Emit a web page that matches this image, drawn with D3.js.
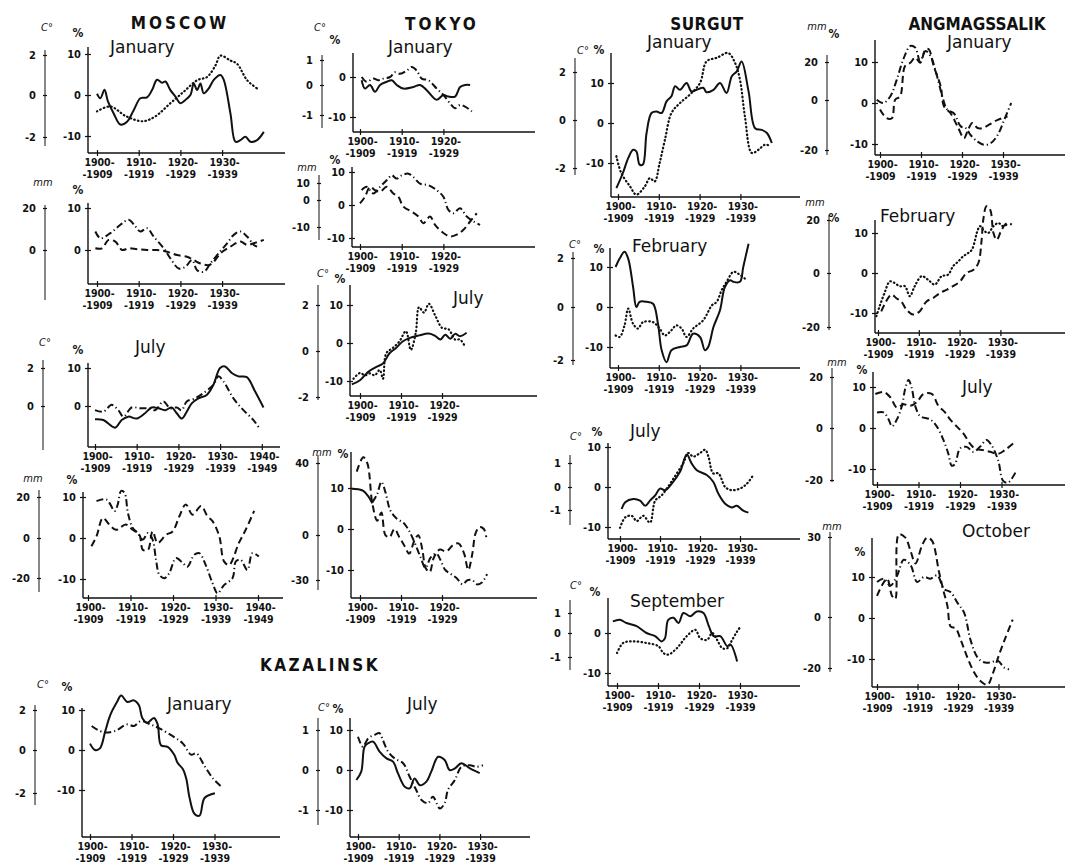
<!DOCTYPE html>
<html>
<head>
<meta charset="utf-8">
<script src="https://cdn.jsdelivr.net/npm/d3@7"></script>
<style>
body { margin: 0; background: #fff; }
svg { display: block; }
</style>
</head>
<body>
<div class="container"></div>
<script>

// ---- tick labels ----
var decades30 = [1900, 1910, 1920, 1930];
var decades40 = [1900, 1910, 1920, 1930, 1940];
var decades20 = [1900, 1910, 1920];
var pct3 = [10, 0, -10];
var pctTop = [10, 0];
var pctLow = [0, -10];
var deg2 = [2, 0, -2];
var deg2top = [2, 0];
var deg1 = [1, 0, -1];
var mm20 = [20, 0];
var mm20b = [20, 0, -20];
var mm10 = [10, 0, -10];
var mm40 = [40, 0, -30];
var mm30 = [30, 0, -20];

// ---- series, [year, value in %] ----
var mosJanSolid = [[1900,0.3],[1900.8,-0.8],[1901.8,1.3],[1902.6,-1.5],[1904,-4.5],[1905.6,-7.2],[1907.2,-6.5],[1908.8,-3.7],[1910.4,-0.8],[1912,-0.6],[1913.2,1.2],[1914.4,3.7],[1915.6,3],[1916.4,3.3],[1917.6,1.2],[1918.8,-0.4],[1920,-2],[1921.2,-1.2],[1922.4,0],[1923.2,2.8],[1924,1.2],[1924.8,2.8],[1925.6,0.4],[1926.8,1.6],[1928,3.7],[1929.6,4.9],[1930.4,3.7],[1932,-4.5],[1933.2,-11.4],[1934.4,-11],[1935.6,-10.2],[1936.8,-11.4],[1938.4,-11],[1940,-9]];
var mosJanDotted = [[1900,-4],[1903.2,-2.8],[1907,-5.2],[1911,-6.4],[1914,-5.2],[1917.6,-2],[1920.8,0.8],[1924,3.6],[1926.4,4.4],[1928.4,7.2],[1929.6,9.6],[1932,8.4],[1933.6,7.6],[1936,3.6],[1938.4,1.6]];
var mosJanRainDashDot = [[1899.6,4.4],[1900.8,2.8],[1903.2,4],[1905.6,6],[1907.6,7.2],[1909.2,5.6],[1910.4,4.4],[1912,5.2],[1913.6,3.2],[1916,0.4],[1917.6,-2],[1919.6,-4.4],[1921.2,-4],[1922.8,-2.4],[1924,-4.8],[1925.6,-5.2],[1927.2,-3.2],[1928.8,-1.2],[1931.2,1.6],[1932.8,3.6],[1934.4,4.4],[1936,3.2],[1937.6,1.2],[1938.4,0.8]];
var mosJanRainDashed = [[1899.6,0.4],[1901.2,0.4],[1902.8,2.4],[1904.4,2],[1906,0],[1907.6,0.4],[1909.6,0.2],[1912,0],[1914.4,0],[1916.8,-0.4],[1919.2,-1.2],[1921.6,-1.6],[1923.2,-2.4],[1924.8,-3.2],[1926.8,-3.6],[1928,-2.8],[1929.6,-0.8],[1932,0.8],[1934.4,2],[1936,1.2],[1937.6,1.6],[1940,2.4]];
var mosJulSolid = [[1900,-3.5],[1902,-3.7],[1904.8,-5.7],[1906.4,-3.7],[1908,-2.8],[1910,-3.3],[1912,-1.9],[1913.6,-0.4],[1915.2,-0.6],[1916.8,-1.1],[1918.4,-0.4],[1919.6,-1.9],[1920.8,-3.3],[1922,-1.5],[1923.2,0.7],[1924.8,2],[1926.8,2.9],[1928.4,5.6],[1930,10],[1931.2,10.4],[1932.8,8.7],[1934.4,7.8],[1936.4,7.6],[1938.4,3.8],[1940.4,-0.4]];
var mosJulDashDot = [[1900,-1.1],[1902,-1.5],[1904,0.3],[1905.6,-1.1],[1906.8,-2.8],[1908.8,-0.4],[1910.8,-0.6],[1912.8,-0.6],[1914.4,-1.1],[1916.4,1.2],[1918,-0.6],[1919.6,-0.4],[1920.8,-1.1],[1922,1.2],[1924,2],[1926,3.4],[1928.4,5.6],[1929.6,7.8],[1930.8,6.5],[1933.2,2],[1935.6,-1.1],[1938,-3.7],[1939.6,-6.2]];
var mosJulRainDashDot = [[1902,9],[1904.3,9.4],[1906.3,6.6],[1907,8.2],[1907.8,11.5],[1908.6,11],[1909.4,6.1],[1910.5,2.5],[1911.7,1.2],[1912.9,-0.4],[1914.1,1.2],[1915.2,-0.4],[1916,-5.3],[1916.8,-9],[1918,-9.8],[1919.1,-8.6],[1920.7,-4.9],[1922.3,-6.1],[1923.4,-7],[1925,-4.1],[1926.2,-3.7],[1927.7,-6.6],[1929.3,-11],[1930.5,-13.5],[1932,-11.5],[1934,-9.8],[1934.8,-5.7],[1935.9,-5.3],[1937.5,-7.8],[1938.7,-3.7],[1940.2,-4.5]];
var mosJulRainDashed = [[1900.8,-2],[1902,0.4],[1903.5,4.9],[1905,3.3],[1906.6,2],[1908.9,3.3],[1910.5,2],[1912.1,0.8],[1912.9,-2.9],[1914.1,-2.9],[1915.2,1.6],[1916.4,-1.2],[1918.4,0.8],[1919.9,1.6],[1921.5,5.3],[1923,8.2],[1924.6,5.7],[1926.6,7.8],[1928.1,5.3],[1929.3,4.1],[1930.9,0.4],[1932,-5.7],[1933.2,-6.6],[1935.5,-1.2],[1937.1,2],[1939.1,6.6]];
var kazJanSolid = [[1900,1.6],[1901.2,0],[1902.4,0.4],[1903.7,4.8],[1904.9,8.8],[1906.5,12],[1907.5,13.6],[1909,12],[1910.6,12.4],[1911.8,11.2],[1912.6,8],[1913.8,6.8],[1915.4,8],[1916.3,6.4],[1917.1,1.2],[1918.7,0.8],[1920.3,-1.2],[1921.1,-3.2],[1922.4,-4.8],[1923.2,-7.2],[1924,-12],[1925.2,-16],[1926.4,-16.4],[1927.6,-12],[1930.1,-10.8]];
var kazJanDashDot = [[1900.4,6],[1903.3,4.4],[1906.1,4.8],[1908.9,6.4],[1910.6,6],[1912.2,7.2],[1914.6,6.4],[1917.1,5.2],[1920.3,3.2],[1922.4,1.6],[1924.4,-1.2],[1925.6,-0.8],[1927.6,-4],[1929.7,-7.2],[1931.7,-9.2]];
var kazJulSolid = [[1899.6,-2.5],[1900.8,-0.4],[1901.6,5.8],[1902.5,6.7],[1903.7,7.1],[1905.3,4.6],[1907,2.9],[1908.6,2.1],[1909.8,-0.8],[1911.5,-4.2],[1912.7,-4.6],[1913.9,-2.1],[1915.2,-3.8],[1916.8,-2.9],[1918,-0.4],[1919.7,3.3],[1921.3,2.5],[1922.5,0],[1923.8,0.4],[1925.4,1.7],[1927.5,0.4],[1929.9,-0.8]];
var kazJulDashDot = [[1900,8.3],[1901.2,5.8],[1902.5,7.9],[1904.1,8.8],[1905.3,9.2],[1906.1,7.5],[1907.4,4.6],[1909,2.9],[1911.1,1.7],[1912.7,-1.7],[1914.3,-5],[1915.6,-7.5],[1917.2,-8.3],[1918.4,-6.7],[1920.1,-9.6],[1921.3,-8.3],[1922.1,-5],[1923.8,-2.5],[1925.4,0.8],[1927.5,1.2],[1929.1,0.8],[1930.7,1.2]];
var tokJanSolid = [[1900.4,-0.8],[1901.2,-2.9],[1902.4,-2],[1903.6,-3.7],[1904.8,-2],[1906.4,-1.2],[1907.6,-0.8],[1908.8,-2],[1910.4,-2.9],[1912.8,-2.5],[1914.4,-2],[1916,-3.3],[1918.4,-5.7],[1920,-4.5],[1921.2,-4.9],[1922.8,-4.9],[1924,-2.5],[1925.2,-2],[1926.4,-2]];
var tokJanDashDot = [[1900.4,0],[1901.6,-1.2],[1903.2,-0.4],[1904.4,-0.8],[1905.6,-0.4],[1907.2,0],[1908.4,1.2],[1909.6,0.8],[1911.2,1.6],[1912.4,2.5],[1913.6,1.6],[1914.8,-0.4],[1916.4,-0.8],[1918.4,-2.9],[1920,-4.5],[1921.6,-6.6],[1922.8,-7.8],[1924,-7],[1925.2,-7.4],[1926.8,-8.6]];
var tokJanRainDashDot = [[1900.4,4.5],[1901.6,5.5],[1903.2,3.5],[1904.8,5.5],[1906.4,7.5],[1907.6,9],[1908.8,8],[1910,9],[1911.6,9.5],[1912.8,8.5],[1914.4,6.5],[1916.4,6],[1918.4,4.5],[1920,2.5],[1921.2,-1.5],[1922.4,-2.5],[1924,-1],[1925.6,-3.5],[1927.2,-5],[1928.8,-6]];
var tokJanRainDashed = [[1900,0.5],[1901.2,2.5],[1902.4,5.5],[1903.6,4.5],[1904.8,4],[1906.4,5.5],[1908,3.5],[1909.2,2.5],[1910.4,-0.5],[1912.4,-2],[1914,-3.5],[1915.2,-5.5],[1916.8,-3.5],[1918,-6],[1920,-8.5],[1921.6,-9.5],[1923.2,-9],[1924.8,-7.5],[1926.4,-5],[1928,-2.5]];
var tokJulSolid = [[1898,-10.9],[1900,-9.8],[1902,-7.6],[1904,-6.3],[1905.6,-5.4],[1907.2,-2.7],[1908.8,-1.3],[1910.4,0.4],[1912,1.3],[1914.4,2],[1916.8,2.5],[1918.4,1.8],[1919.6,0.9],[1920.8,2.2],[1922,1.1],[1923.2,2.4],[1924.4,1.8],[1926,2.7]];
var tokJulDotted = [[1898.4,-9.4],[1900,-7.9],[1901.2,-8.5],[1902.4,-8],[1903.6,-8.5],[1904.8,-7.1],[1905.6,-9.4],[1906.4,-2.7],[1908,-1.3],[1909.6,0.4],[1911.2,3.1],[1912.4,-1.8],[1913.6,2.7],[1914.4,9.4],[1915.6,8],[1916.8,10.3],[1918.4,7.1],[1920,4],[1921.6,3.6],[1923.2,0.9],[1924.4,0.9],[1925.6,-0.9]];
var tokJulRainSolid = [[1898,9.8],[1899.5,9.7],[1900.8,9.3],[1902,8],[1903,6.3]];
var tokJulRainDashDot = [[1903,6.5],[1904.2,8.5],[1905.2,11.5],[1906.2,9],[1907.4,4.5],[1909,2.5],[1910.6,1.5],[1912,-0.5],[1913.4,-3.5],[1914.8,-7],[1916,-9.5],[1917.2,-7],[1918.6,-6],[1919.6,-7.5],[1920.8,-10],[1922.2,-11],[1923.6,-12],[1925,-13.5],[1926.2,-12.5],[1927.4,-12.5],[1928.6,-13.5],[1929.8,-13],[1931,-11]];
var tokJulRainDashed = [[1899.2,14],[1900.8,17.5],[1901.8,16],[1903,6.3],[1904.2,2],[1905.2,4],[1906.2,-1.5],[1907.2,-2],[1908.4,0],[1909.6,-2],[1910.8,-4],[1912,-6],[1913.2,-3],[1914.2,-1.5],[1915.2,-5],[1916,-9.5],[1917,-10.5],[1918,-7],[1919.5,-5],[1921,-5.5],[1922.6,-4],[1924,-3.5],[1925.4,-6],[1926.4,-10],[1927.4,-6],[1928.2,-1],[1929.2,0.5],[1930.2,0],[1930.8,-2]];
var surJanSolid = [[1899.6,-16.3],[1901.2,-12.5],[1902.5,-8.8],[1903.7,-6.7],[1904.5,-7.1],[1905.3,-10.4],[1906.1,-10.4],[1907,-2.5],[1908.2,2.5],[1909.4,2.9],[1910.7,2.5],[1911.9,5.4],[1913.1,6.7],[1914,9.2],[1915.2,8.3],[1916.8,10],[1918,7.9],[1919.3,8.3],[1920.9,8.8],[1921.7,7.7],[1923.4,8.3],[1925,10],[1926.6,7.5],[1927.9,11.7],[1929.1,12.9],[1930.3,15.4],[1932,7.9],[1933.6,-1.3],[1935.2,-1.7],[1936.5,-2.5],[1937.7,-5]];
var surJanDotted = [[1899.6,-8.3],[1900.8,-12.5],[1902.9,-15.8],[1904.5,-17.9],[1906.6,-15.8],[1907.8,-13.8],[1909,-14.6],[1910.2,-10],[1911.5,-4.2],[1913.1,2.5],[1915.2,5],[1917.6,7.1],[1920.1,10],[1921.7,15.4],[1924.2,16.3],[1927,17.5],[1928.7,15],[1929.9,10.8],[1931.1,1.7],[1932.8,-7.5],[1934.4,-6.7],[1936.1,-5.4],[1937.3,-5.8]];
var surFebSolid = [[1899.4,10],[1900.4,12.1],[1901.6,13.8],[1902.5,12.1],[1903.7,5],[1904.5,0],[1905.3,1.3],[1907,1.3],[1908.6,0.8],[1909.8,-4.2],[1910.7,-10.8],[1911.9,-13.8],[1913.1,-10.8],[1915.2,-10],[1916.8,-9.6],[1918.4,-6.7],[1920.1,-7.5],[1921.3,-10.8],[1922.1,-10],[1923.4,-5],[1925,-0.8],[1926.2,5],[1927.5,6.7],[1928.3,6.3],[1929.9,6.3],[1930.7,10],[1932,15.8]];
var surFebDotted = [[1899.4,-7.1],[1900.4,-7.5],[1901.6,-4.6],[1902.5,-0.4],[1903.7,-4.2],[1904.9,-5.4],[1906.1,-3.8],[1908.6,-3.8],[1910.2,-5.4],[1911.5,-7.1],[1913.1,-5.8],[1914.3,-4.6],[1915.6,-5.4],[1916.8,-7.5],[1918.4,-5.4],[1920.9,-3.3],[1923,0.4],[1924.2,1.3],[1925.4,4.2],[1926.6,6.3],[1928.3,8.8],[1929.5,8.3],[1931.1,7.1]];
var surJulSolid = [[1900.4,-5.5],[1901.3,-3.8],[1903.3,-3],[1905,-3.4],[1906.3,-4.7],[1907.5,-3.4],[1908.8,-2.1],[1910,-0.4],[1911.3,-0.8],[1912.9,0.8],[1915,3.8],[1916.7,8.1],[1917.9,5.9],[1919.2,4.2],[1921.7,3],[1923.3,1.3],[1924.6,-1.7],[1926.3,-4.2],[1927.9,-5.1],[1929.2,-4.7],[1930.8,-5.9],[1932.1,-6.4]];
var surJulDotted = [[1900,-10.2],[1901.3,-7.6],[1902.9,-7.2],[1904.2,-8.5],[1905.8,-7.2],[1907.5,-8.9],[1908.8,-3.4],[1910.4,-2.1],[1912.5,0.8],[1914.2,3.4],[1915.8,5.9],[1917.1,8.5],[1918.3,7.6],[1920,8.5],[1921.3,9.3],[1922.1,7.6],[1923.3,3.4],[1924.6,3.4],[1926.3,0],[1927.9,-0.8],[1930,-0.4],[1931.7,0.8],[1933.3,3]];
var surSepSolid = [[1899,2.9],[1900.7,3.3],[1902.3,2.5],[1904.8,1.7],[1907.2,0],[1909.3,-0.8],[1910.9,-2.1],[1911.7,-1.3],[1912.5,3.3],[1913.8,3.8],[1915,2.5],[1916.2,5],[1917.9,4.2],[1919.5,5.4],[1921.1,5],[1922.4,1.7],[1923.6,-0.8],[1925.2,-0.8],[1926.9,-3.3],[1927.7,-2.9],[1929.3,-7.1]];
var surSepDotted = [[1900,-5],[1901.5,-2.5],[1903.9,-2.1],[1907.2,-2.5],[1910.1,-3.3],[1911.3,-5],[1912.5,-5.4],[1914.6,-3.8],[1917,-0.8],[1919.1,0.8],[1920.3,-1.3],[1922,-1.7],[1923.2,0],[1924.4,-1.7],[1925.7,-3.8],[1926.9,-3.8],[1928.1,-1.7],[1929.3,0.4],[1930.2,1.7]];
var angJanDashDot = [[1899.2,0.8],[1900.8,0],[1902.5,1.6],[1904.1,5.7],[1905.7,10.7],[1907.4,13.9],[1908.6,13.5],[1909.8,10.2],[1911.1,12.7],[1912.3,11.5],[1913.9,6.6],[1915.2,1.6],[1916.4,-1.6],[1918,-2.5],[1919.7,-5.7],[1920.9,-6.1],[1922.1,-7.8],[1923.8,-9.4],[1925.4,-10.2],[1927,-9.8],[1928.7,-7.8],[1930.3,-4.1],[1932,0]];
var angJanDashed = [[1900,-1.6],[1901.6,-3.7],[1902.9,-3.7],[1903.7,0.8],[1904.9,1.6],[1906.1,9],[1907.4,9.8],[1908.6,11.1],[1909.8,9.8],[1911.1,13.1],[1911.9,13.1],[1913.1,9],[1914.8,4.1],[1915.6,-0.8],[1917.2,-2.5],[1918.9,-5.7],[1920.5,-8.6],[1921.3,-7],[1922.5,-4.9],[1923.8,-6.1],[1925,-6.1],[1926.6,-5.3],[1928.7,-4.1],[1931.1,-3.3]];
var angFebDotted = [[1899.6,-10.8],[1900.4,-8.3],[1901.6,-5],[1902.9,-2.1],[1904.1,-2.5],[1905.3,-3.3],[1906.6,-3.3],[1907.8,-5.8],[1909,-3.3],[1910.7,-0.8],[1912.3,-1.7],[1913.9,-2.9],[1915.6,-0.8],[1917.2,-0.4],[1918.4,1.7],[1919.7,2.9],[1920.9,4.2],[1922.1,5],[1923,5.8],[1923.8,8.3],[1924.2,10],[1925,11.7],[1925.8,10.8],[1927,10],[1928.3,11.7],[1929.5,12.5],[1930.7,11.7],[1932,12.5]];
var angFebDashed = [[1900.8,-9.6],[1902,-7.1],[1903.3,-5.4],[1904.5,-6.3],[1905.7,-7.1],[1907,-9.2],[1908.6,-10.4],[1910.2,-9.6],[1911.9,-7.1],[1913.5,-6.3],[1915.2,-5],[1916.8,-4.2],[1918.4,-3.3],[1920.1,-2.1],[1921.7,0],[1923.4,0.8],[1924.6,2.5],[1925.4,8.3],[1925.8,13.3],[1926.6,16.7],[1927.5,15.8],[1928.3,10],[1929.1,8.3],[1930.3,10.8],[1931.6,12.5],[1932.8,12.1]];
var angJulDashed = [[1899.6,8.3],[1901.6,8.8],[1903.2,7.5],[1904.8,5],[1906.4,5.8],[1908,5.4],[1909.6,6.3],[1911.2,8.3],[1913.2,8.3],[1914.8,5.4],[1916.4,3.8],[1917.6,2.1],[1919.2,0.4],[1920.8,-1.3],[1922.4,-3.8],[1923.6,-5],[1925.6,-5.4],[1927.2,-5.8],[1929.2,-6.3],[1930.8,-5.4],[1932.8,-3.8]];
var angJulDashDot = [[1900,3.8],[1901.6,3.8],[1902.8,2.1],[1903.6,0.4],[1904.8,2.1],[1906,5.4],[1906.8,9.6],[1907.6,11.7],[1908.4,9.6],[1909.2,5.4],[1910.4,2.9],[1912.8,2.1],[1914.4,0.4],[1916,-2.9],[1917.2,-6.3],[1918,-9.2],[1918.8,-8.8],[1920,-5],[1921.6,-4.6],[1923.2,-5.8],[1924.8,-4.6],[1926.4,-2.9],[1927.6,-4.2],[1929.2,-7.9],[1930.4,-12.9],[1931.6,-13.3],[1933.6,-10.4]];
var angOctDashed = [[1900,5.4],[1901.2,7.9],[1902.5,9.6],[1903.7,5.4],[1904.5,4.6],[1905.4,20.4],[1907,19.6],[1908.3,16.3],[1909.5,13.3],[1911.2,17.9],[1912.4,19.6],[1913.6,18.8],[1915.3,11.3],[1916.5,6.3],[1917.4,2.9],[1918.2,-2.1],[1919.4,-2.5],[1920.7,-5.4],[1922.3,-9.6],[1924,-13.3],[1925.6,-15.4],[1927.3,-16.3],[1928.5,-13.8],[1930.2,-8.8],[1931.8,-4.6],[1933.5,-0.4]];
var angOctDashDot = [[1900,8.8],[1901.7,9.6],[1903.3,7.9],[1905,10.4],[1906.6,14.2],[1908.3,12.9],[1909.9,8.8],[1911.6,10],[1913.2,9.6],[1914.9,10.4],[1916.5,7.1],[1918.2,6.3],[1919.8,3.8],[1921.5,1.3],[1923.1,-5.4],[1924.8,-9.6],[1926.4,-10.8],[1928.1,-10.8],[1929.8,-10.4],[1931.4,-12.1],[1932.6,-12.5]];

// ---- layout ----
var W = 1065, H = 867;
var ink = "#111";
var dashes = { solid: null, dotted: "0.6,3.2", dashed: "7,4", dashdot: "7,3,1.2,3" };
var labelFont = "'DejaVu Sans Condensed', 'DejaVu Sans', sans-serif";

var cities = [
	{ name: "MOSCOW", x: 180, y: 29, sp: 3 },
	{ name: "TOKYO", x: 442, y: 30, sp: 3 },
	{ name: "SURGUT", x: 707, y: 30, sp: 0.5 },
	{ name: "ANGMAGSSALIK", x: 977, y: 30, sp: 0 },
	{ name: "KAZALINSK", x: 320, y: 671, sp: 2.5 }
];

var panels = [
	{ month: "January", mx: 110, my: 53, x1900: 97, xDec: 41.7, axisX: 88, top: 47, base: 153, right: 285, y0: 95, y10: 54, pt: pct3, ticks: decades30,
	  sec: { label: "C°", lx: 47, ly: 31, x: 45, top: 50, bot: 146, ticks: deg2, range: [55, 95, 137] }, plx: 78, ply: 37,
	  series: [{ d: mosJanSolid, s: "solid" }, { d: mosJanDotted, s: "dotted" }] },
	{ month: "", x1900: 97, xDec: 41.7, axisX: 88, top: 203, base: 284, right: 285, y0: 250, y10: 208, pt: pctTop, ticks: decades30,
	  sec: { label: "mm", lx: 43, ly: 186, x: 45, top: 205, bot: 300, ticks: mm20, range: [208, 250] }, plx: 78, ply: 194,
	  series: [{ d: mosJanRainDashDot, s: "dashdot" }, { d: mosJanRainDashed, s: "dashed" }] },
	{ month: "July", mx: 135, my: 353, x1900: 95, xDec: 41.7, axisX: 88, top: 363, base: 447, right: 280, y0: 406, y10: 368, pt: pctTop, ticks: decades40,
	  sec: { label: "C°", lx: 45, ly: 346, x: 43, top: 360, bot: 450, ticks: deg2top, range: [368, 406] }, plx: 78, ply: 354,
	  series: [{ d: mosJulSolid, s: "solid" }, { d: mosJulDashDot, s: "dashdot" }] },
	{ month: "", x1900: 88, xDec: 42.5, axisX: 83, top: 492, base: 598, right: 283, y0: 538, y10: 497, pt: pct3, ticks: decades40,
	  sec: { label: "mm", lx: 33, ly: 482, x: 39, top: 490, bot: 592, ticks: mm20b, range: [497, 538, 578] }, plx: 72, ply: 484,
	  series: [{ d: mosJulRainDashDot, s: "dashdot" }, { d: mosJulRainDashed, s: "dashed" }] },
	{ month: "January", mx: 167, my: 710, x1900: 90, xDec: 41.5, axisX: 82, top: 708, base: 837, right: 280, y0: 750, y10: 710, pt: pct3, ticks: decades30,
	  sec: { label: "C°", lx: 43, ly: 688, x: 35, top: 705, bot: 805, ticks: deg2, range: [710, 750, 793] }, plx: 67, ply: 691,
	  series: [{ d: kazJanSolid, s: "solid" }, { d: kazJanDashDot, s: "dashdot" }] },
	{ month: "July", mx: 407, my: 710, x1900: 358, xDec: 40.7, axisX: 350, top: 718, base: 837, right: 530, y0: 770, y10: 730, pt: pct3, ticks: decades30,
	  sec: { label: "C°", lx: 324, ly: 711, x: 318, top: 718, bot: 825, ticks: deg1, range: [730, 770, 810] }, plx: 338, ply: 713,
	  series: [{ d: kazJulSolid, s: "solid" }, { d: kazJulDashDot, s: "dashdot" }] },
	{ month: "January", mx: 388, my: 53, x1900: 360, xDec: 41.7, axisX: 353, top: 53, base: 132, right: 535, y0: 77, y10: 37, pt: pctLow, ticks: decades20,
	  sec: { label: "C°", lx: 320, ly: 31, x: 322, top: 55, bot: 128, ticks: deg1, range: [60, 85, 115] }, plx: 335, ply: 44,
	  series: [{ d: tokJanSolid, s: "solid" }, { d: tokJanDashDot, s: "dashdot" }] },
	{ month: "", x1900: 360, xDec: 41.7, axisX: 352, top: 167, base: 247, right: 535, y0: 205, y10: 172, pt: pct3, ticks: decades20,
	  sec: { label: "mm", lx: 307, ly: 171, x: 319, top: 175, bot: 240, ticks: mm10, range: [183, 200, 227] }, plx: 335, ply: 164,
	  series: [{ d: tokJanRainDashDot, s: "dashdot" }, { d: tokJanRainDashed, s: "dashed" }] },
	{ month: "July", mx: 453, my: 304, x1900: 360, xDec: 41, axisX: 350, top: 285, base: 396, right: 537, y0: 343, y10: 305, pt: pct3, ticks: decades20,
	  sec: { label: "C°", lx: 323, ly: 277, x: 318, top: 285, bot: 400, ticks: deg2, range: [305, 351, 397] }, plx: 340, ply: 283,
	  series: [{ d: tokJulSolid, s: "solid" }, { d: tokJulDotted, s: "dotted" }] },
	{ month: "", x1900: 360, xDec: 41, axisX: 351, top: 452, base: 598, right: 537, y0: 529, y10: 488, pt: pct3, ticks: decades20,
	  sec: { label: "mm", lx: 322, ly: 456, x: 318, top: 455, bot: 590, ticks: mm40, range: [463, 535, 580] }, plx: 343, ply: 458,
	  series: [{ d: tokJulRainSolid, s: "solid" }, { d: tokJulRainDashDot, s: "dashdot" }, { d: tokJulRainDashed, s: "dashed" }] },
	{ month: "January", mx: 647, my: 48, x1900: 618, xDec: 40.8, axisX: 611, top: 53, base: 197, right: 800, y0: 123, y10: 83, pt: pct3, ticks: decades30,
	  sec: { label: "C°", lx: 583, ly: 54, x: 575, top: 58, bot: 175, ticks: deg2, range: [72, 120, 168] }, plx: 599, ply: 54,
	  series: [{ d: surJanSolid, s: "solid" }, { d: surJanDotted, s: "dotted" }] },
	{ month: "February", mx: 632, my: 252, x1900: 618, xDec: 40.8, axisX: 610, top: 248, base: 368, right: 800, y0: 307, y10: 267, pt: pct3, ticks: decades30,
	  sec: { label: "C°", lx: 575, ly: 248, x: 573, top: 252, bot: 365, ticks: deg2, range: [258, 307, 360] }, plx: 599, ply: 253,
	  series: [{ d: surFebSolid, s: "solid" }, { d: surFebDotted, s: "dotted" }] },
	{ month: "July", mx: 630, my: 437, x1900: 620, xDec: 40, axisX: 608, top: 443, base: 539, right: 800, y0: 487, y10: 447, pt: pct3, ticks: decades30,
	  sec: { label: "C°", lx: 576, ly: 440, x: 570, top: 455, bot: 525, ticks: deg1, range: [463, 487, 510] }, plx: 597, ply: 436,
	  series: [{ d: surJulSolid, s: "solid" }, { d: surJulDotted, s: "dotted" }] },
	{ month: "September", mx: 630, my: 607, x1900: 617, xDec: 41, axisX: 608, top: 598, base: 686, right: 800, y0: 633, y10: 593, pt: pctLow, ticks: decades30,
	  sec: { label: "C°", lx: 576, ly: 589, x: 570, top: 600, bot: 670, ticks: deg1, range: [613, 633, 657] }, plx: 595, ply: 596,
	  series: [{ d: surSepSolid, s: "solid" }, { d: surSepDotted, s: "dotted" }] },
	{ month: "January", mx: 947, my: 48, x1900: 880, xDec: 41, axisX: 875, top: 40, base: 155, right: 1065, y0: 103, y10: 62, pt: pct3, ticks: decades30,
	  sec: { label: "mm", lx: 817, ly: 30, x: 827, top: 55, bot: 155, ticks: mm20b, range: [62, 100, 150] }, plx: 834, ply: 38,
	  series: [{ d: angJanDashDot, s: "dashdot" }, { d: angJanDashed, s: "dashed" }] },
	{ month: "February", mx: 880, my: 222, x1900: 878, xDec: 40.8, axisX: 875, top: 220, base: 333, right: 1065, y0: 273, y10: 233, pt: pct3, ticks: decades30,
	  sec: { label: "mm", lx: 815, ly: 206, x: 829, top: 215, bot: 330, ticks: mm20b, range: [220, 273, 327] }, plx: 834, ply: 222,
	  series: [{ d: angFebDotted, s: "dotted" }, { d: angFebDashed, s: "dashed" }] },
	{ month: "July", mx: 962, my: 393, x1900: 877, xDec: 41.5, axisX: 873, top: 372, base: 485, right: 1065, y0: 428, y10: 387, pt: pct3, ticks: decades30,
	  sec: { label: "mm", lx: 837, ly: 366, x: 832, top: 368, bot: 482, ticks: mm20b, range: [377, 428, 480] }, plx: 862, ply: 374,
	  series: [{ d: angJulDashed, s: "dashed" }, { d: angJulDashDot, s: "dashdot" }] },
	{ month: "October", mx: 962, my: 537, x1900: 877, xDec: 40.5, axisX: 872, top: 538, base: 687, right: 1065, y0: 618, y10: 577, pt: pct3, ticks: decades30,
	  sec: { label: "mm", lx: 832, ly: 530, x: 830, top: 532, bot: 672, ticks: mm30, range: [537, 617, 668] }, plx: 860, ply: 556,
	  series: [{ d: angOctDashed, s: "dashed" }, { d: angOctDashDot, s: "dashdot" }] }
];

var svg = d3.select(".container").append("svg")
	.attr("width", W)
	.attr("height", H)
	.style("background", "#fff");

// city headings
svg.selectAll("text.city").data(cities).enter().append("text")
	.attr("class", "city")
	.attr("x", function (d) { return d.x; })
	.attr("y", function (d) { return d.y; })
	.attr("text-anchor", "middle")
	.attr("font-family", labelFont)
	.attr("font-weight", "bold")
	.attr("font-size", 17)
	.attr("letter-spacing", function (d) { return d.sp; })
	.attr("fill", ink)
	.text(function (d) { return d.name; });

function styleAxis(g, size) {
	g.attr("font-family", labelFont)
	 .attr("font-size", size)
	 .attr("font-weight", "bold");
	g.select(".domain").remove();
	g.selectAll(".tick line").attr("stroke", ink).attr("stroke-width", 1.2);
	g.selectAll(".tick text").attr("fill", ink);
}

function drawPanel(p) {
	var g = svg.append("g");
	var x = d3.scaleLinear().domain([1900, 1910]).range([p.x1900, p.x1900 + p.xDec]);
	var y = d3.scaleLinear().domain([0, 10]).range([p.y0, p.y10]);
	var y2 = d3.scaleLinear().domain(p.sec.ticks).range(p.sec.range);

	// frame lines
	g.append("line")
		.attr("x1", p.axisX).attr("x2", p.axisX)
		.attr("y1", p.top).attr("y2", p.base)
		.attr("stroke", ink).attr("stroke-width", 1.4);
	g.append("line")
		.attr("x1", p.axisX).attr("x2", p.right)
		.attr("y1", p.base).attr("y2", p.base)
		.attr("stroke", ink).attr("stroke-width", 1.4);
	g.append("line")
		.attr("x1", p.sec.x).attr("x2", p.sec.x)
		.attr("y1", p.sec.top).attr("y2", p.sec.bot)
		.attr("stroke", ink).attr("stroke-width", 1);

	// % axis
	var ya = g.append("g")
		.attr("transform", "translate(" + p.axisX + ",0)")
		.call(d3.axisLeft(y).tickValues(p.pt).tickSize(3).tickPadding(4)
			.tickFormat(function (d) { return String(d); }));
	styleAxis(ya, 11);
	ya.selectAll(".tick line").attr("x1", 3);

	// secondary axis (C° or mm)
	var sa = g.append("g")
		.attr("transform", "translate(" + p.sec.x + ",0)")
		.call(d3.axisLeft(y2).tickValues(p.sec.ticks).tickSize(2).tickPadding(7)
			.tickFormat(function (d) { return String(d); }));
	styleAxis(sa, 11);
	sa.selectAll(".tick line").attr("x1", 2);

	// decade axis with two-line labels
	var xa = g.append("g")
		.attr("transform", "translate(0," + p.base + ")")
		.call(d3.axisBottom(x).tickValues(p.ticks).tickSize(3).tickPadding(3));
	styleAxis(xa, 10.5);
	xa.selectAll(".tick line").attr("y1", -3);
	xa.selectAll(".tick text").each(function (d) {
		var t = d3.select(this).text(null).attr("y", 0).attr("dy", null);
		t.append("tspan").attr("x", 2).attr("y", 13).text(d + "-");
		t.append("tspan").attr("x", 0).attr("y", 25).text("-" + (d + 9));
	});

	// unit labels
	g.append("text")
		.attr("x", p.sec.lx).attr("y", p.sec.ly)
		.attr("text-anchor", "middle")
		.attr("font-family", labelFont)
		.attr("font-style", "italic")
		.attr("font-size", 11)
		.attr("fill", ink)
		.text(p.sec.label);
	g.append("text")
		.attr("x", p.plx).attr("y", p.ply)
		.attr("text-anchor", "middle")
		.attr("font-family", labelFont)
		.attr("font-weight", "bold")
		.attr("font-size", 12)
		.attr("fill", ink)
		.text("%");

	if (p.month) {
		g.append("text")
			.attr("x", p.mx).attr("y", p.my)
			.attr("font-family", "'DejaVu Sans', sans-serif")
			.attr("font-size", 17)
			.attr("fill", ink)
			.text(p.month);
	}

	var line = d3.line()
		.x(function (d) { return x(d[0]); })
		.y(function (d) { return y(d[1]); })
		.curve(d3.curveCatmullRom.alpha(0.5));

	p.series.forEach(function (s) {
		g.append("path")
			.datum(s.d)
			.attr("d", line)
			.attr("fill", "none")
			.attr("stroke", ink)
			.attr("stroke-width", s.s === "dotted" ? 2.2 : 2)
			.attr("stroke-linecap", s.s === "dotted" ? "round" : "butt")
			.attr("stroke-linejoin", "round")
			.attr("stroke-dasharray", dashes[s.s]);
	});
}

panels.forEach(drawPanel);

</script>
</body>
</html>
